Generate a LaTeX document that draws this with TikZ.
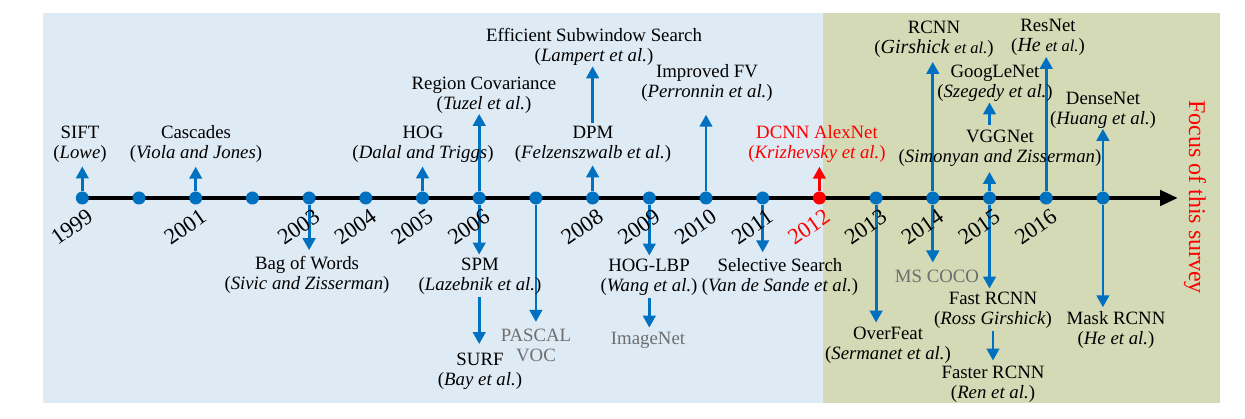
\documentclass[tikz,border=0pt]{standalone}
\usepackage{fontspec}
\setmainfont{Liberation Serif}
\usetikzlibrary{arrows.meta,calc}
\definecolor{bgblue}{RGB}{222,234,244}
\definecolor{bgolive}{RGB}{211,218,181}
\definecolor{tblue}{RGB}{0,112,192}
\definecolor{tgrey}{RGB}{110,110,110}
\pgfdeclarelayer{bg}
\pgfdeclarelayer{mid}
\pgfsetlayers{bg,mid,main}
\newcommand{\smetal}{{\fontsize{16.5}{16.5}\selectfont\textit{et al.}}}
\begin{document}
\begin{tikzpicture}[x=1pt,y=-1pt,
  lbl/.style={align=center, font=\fontsize{18.8}{20}\selectfont, inner xsep=0pt, inner ysep=4pt},
  yr/.style={font=\fontsize{22.5}{22.5}\selectfont, rotate=35, inner sep=0pt},
  tdot/.style={circle, fill=tblue, minimum size=13pt, inner sep=0pt},
  arr/.style={tblue, line width=2.8pt, -{Triangle[length=12pt,width=12.5pt]}},
  mainline/.style={black, line width=4.5pt, -{Triangle[length=18pt,width=15pt]}}]
\useasboundingbox (0,0) rectangle (1245,419);
\begin{pgfonlayer}{bg}
\fill[bgblue] (43,13) rectangle (823,403);
\fill[bgolive] (823,13) rectangle (1220,403);
\end{pgfonlayer}
% dots
\foreach \y in {1999,...,2011,2013,2014,2015,2016,2017}
  \node[tdot] (d\y) at ({82.3+56.7*(\y-1999)},198) {};
\node[tdot, fill=red] (d2012) at ({82.3+56.7*13},198) {};
\coordinate (tlend) at (1178,198);
% years
\foreach \y in {1999,2001,2003,2004,2005,2006,2008,2009,2010,2011,2013,2014,2015,2016}
  \node[yr] (y\y) at ($(d\y)+(-10.5,29)$) {\y};
\node[yr, text=red] (y2012) at ($(d2012)+(-10.5,29)$) {2012};
% labels above
\node[lbl] (sift) at (80,144) {SIFT\\(\textit{Lowe})};
\node[lbl] (casc) at (196,144) {Cascades\\(\textit{Viola and Jones})};
\node[lbl] (hog) at (423,144) {HOG\\(\textit{Dalal and Triggs})};
\node[lbl, inner ysep=0.5pt] (regcov) at (484,95) {Region Covariance\\(\textit{Tuzel et al.})};
\node[lbl, inner ysep=0.5pt] (ess) at (594,47) {Efficient Subwindow Search\\(\textit{Lampert et al.})};
\node[lbl, inner ysep=3pt] (dpm) at (593,144) {DPM\\(\textit{Felzenszwalb et al.})};
\node[lbl, inner ysep=13pt] (ifv) at (707,83) {Improved FV\\(\textit{Perronnin et al.})};
\node[lbl, text=red] (alex) at (817,144) {DCNN AlexNet\\(\textit{Krizhevsky et al.})};
\node[lbl] (rcnn) at (934,39.5) {RCNN\\({\fontsize{20}{20}\selectfont\textit{Girshick}} \smetal)};
\node[lbl, inner ysep=1pt] (resnet) at (1048,37.5) {ResNet\\({\fontsize{20}{20}\selectfont\textit{He}} \smetal)};
\node[lbl, inner ysep=0.5pt] (goog) at (995,83.5) {GoogLeNet\\(\textit{Szegedy et al.})};
\node[lbl, inner ysep=5pt] (vgg) at (1000,148.5) {VGGNet\\(\textit{Simonyan and Zisserman})};
\node[lbl, inner ysep=0.5pt] (dense) at (1103,110) {DenseNet\\(\textit{Huang et al.})};
% labels below
\node[lbl, inner ysep=6pt] (bow) at (307,275) {Bag of Words\\(\textit{Sivic and Zisserman})};
\node[lbl, inner ysep=3pt] (spm) at (480,276) {SPM\\(\textit{Lazebnik et al.})};
\node[lbl, inner ysep=9pt] (surf) at (480,371.5) {SURF\\(\textit{Bay et al.})};
\node[lbl, text=tgrey, inner ysep=7pt] (pascal) at (536,345.5) {PASCAL\\VOC};
\node[lbl, inner ysep=3pt] (hoglbp) at (649,277) {HOG-LBP\\(\textit{Wang et al.})};
\node[lbl, text=tgrey] (imagenet) at (648,340) {ImageNet};
\node[lbl, inner ysep=6pt] (selsearch) at (780,277) {Selective Search\\(\textit{Van de Sande et al.})};
\node[lbl] (overfeat) at (888,345) {OverFeat\\(\textit{Sermanet et al.})};
\node[lbl, text=tgrey, inner ysep=7pt] (mscoco) at (937,276) {MS COCO};
\node[lbl, inner ysep=3pt] (fast) at (993,310) {Fast RCNN\\(\textit{Ross Girshick})};
\node[lbl, inner ysep=5pt] (faster) at (993,384) {Faster RCNN\\(\textit{Ren et al.})};
\node[lbl] (mask) at (1116,330) {Mask RCNN\\(\textit{He et al.})};
\node[text=red, rotate=-90, font=\fontsize{24}{24}\selectfont, inner sep=0pt] (focus) at (1195,197) {Focus of this survey};
% connectors
\begin{pgfonlayer}{mid}
\draw[mainline] (d1999.center) -- (tlend);
\draw[arr] (d1999) -- (d1999 |- sift.south);
\draw[arr] (d2001) -- (d2001 |- casc.south);
\draw[arr] (d2005) -- (d2005 |- hog.south);
\draw[arr] (d2006) -- (d2006 |- regcov.south);
\draw[arr] (d2008) -- (d2008 |- dpm.south);
\draw[arr] (d2008 |- dpm.north) -- (d2008 |- ess.south);
\draw[arr] (d2010) -- (d2010 |- ifv.south);
\draw[arr, red] (d2012) -- (d2012 |- alex.south);
\draw[arr] (d2014) -- (d2014 |- rcnn.south);
\draw[arr] (d2015) -- (d2015 |- vgg.south);
\draw[arr] (d2015 |- vgg.north) -- (d2015 |- goog.south);
\draw[arr] (d2016) -- (d2016 |- resnet.south);
\draw[arr] (d2017) -- (d2017 |- dense.south);
\draw[arr] (d2003) -- (d2003 |- bow.north);
\draw[arr] (d2006) -- (d2006 |- spm.north);
\draw[arr] (d2006 |- spm.south) -- (d2006 |- surf.north);
\draw[arr] (d2007) -- (d2007 |- pascal.north);
\draw[arr] (d2009) -- (d2009 |- hoglbp.north);
\draw[arr] (d2009 |- hoglbp.south) -- (d2009 |- imagenet.north);
\draw[arr] (d2011) -- (d2011 |- selsearch.north);
\draw[arr] (d2013) -- (d2013 |- overfeat.north);
\draw[arr] (d2014) -- (d2014 |- mscoco.north);
\draw[arr] (d2015) -- (d2015 |- fast.north);
\draw[arr] (fast.south) -- (fast.south |- faster.north);
\draw[arr] (d2017) -- (d2017 |- mask.north);
\end{pgfonlayer}
\end{tikzpicture}
\end{document}
